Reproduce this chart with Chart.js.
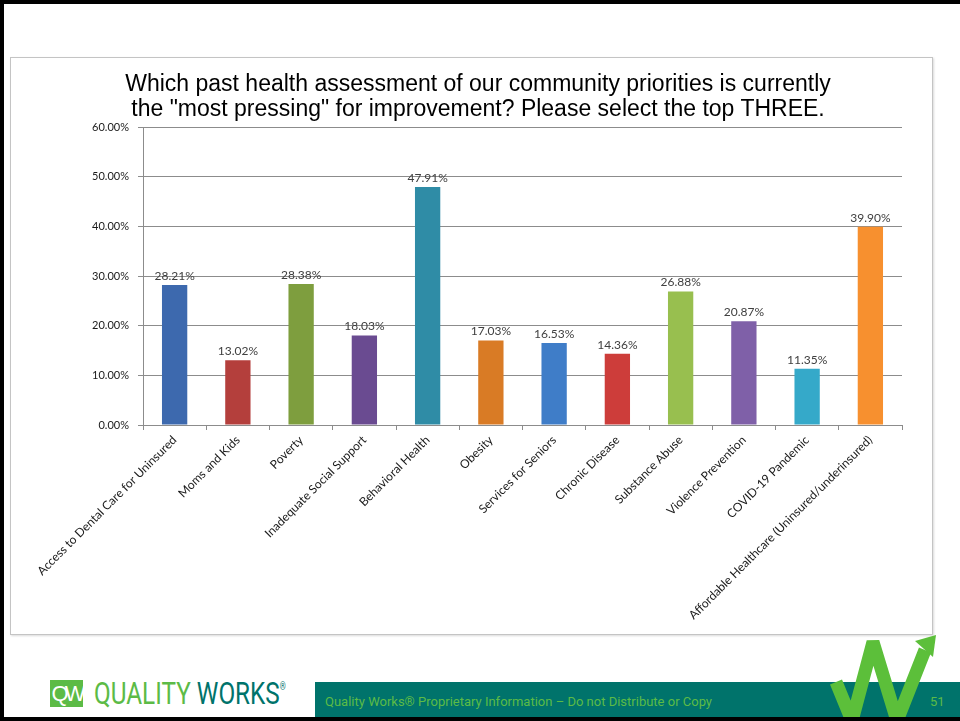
<!DOCTYPE html>
<html>
<head>
<meta charset="utf-8">
<script src="https://cdn.jsdelivr.net/npm/chart.js@4.4.1/dist/chart.umd.min.js"></script>
<style>
  html, body { margin: 0; padding: 0; background: #fff; }
  body { width: 960px; height: 721px; position: relative; overflow: hidden; font-family: 'Liberation Sans', Arial, sans-serif; }
  .edge-top { position: absolute; left: 0; top: 0; width: 960px; height: 4px; background: #000; }
  .edge-left { position: absolute; left: 0; top: 0; width: 4px; height: 721px; background: #000; }
  .edge-bottom { position: absolute; left: 0; top: 717px; width: 960px; height: 4px; background: #000; }
  .frame { position: absolute; left: 10px; top: 57px; width: 921px; height: 576px; border: 1px solid #c4c4c4; box-shadow: 1px 1px 2px rgba(0,0,0,0.15); }
  .frame canvas { display: block; }
  .title { position: absolute; left: 0; top: 71px; width: 956px; text-align: center; font: 23px 'Liberation Sans', Arial, sans-serif; line-height: 25px; color: #000; }
  .band { position: absolute; left: 315px; top: 682px; width: 645px; height: 35px; background: #00736b; }
  .band-text { position: absolute; left: 325px; top: 694px; font: 13px 'Roboto', sans-serif; color: #5cbb46; }
  .page-num { position: absolute; left: 930px; top: 694px; font: 13px 'Roboto', sans-serif; color: #5cbb46; }
  .logo-box { position: absolute; left: 50px; top: 680px; width: 33px; height: 27px; background: #5cbb46; color: #fff; font: 22px 'Liberation Sans', sans-serif; line-height: 27px; text-align: center; letter-spacing: -4px; }
  .logo-text { position: absolute; left: 94px; top: 674px; font: 32px 'Roboto', sans-serif; white-space: nowrap; transform: scaleX(0.76); transform-origin: left; }
  .logo-text .q { color: #5cbb46; }
  .logo-text .w { color: #00736b; }
  .logo-text sup { font-size: 10px; vertical-align: 14px; }
  .mark { position: absolute; left: 0; top: 0; }
</style>
</head>
<body>
<div class="edge-top"></div>
<div class="edge-left"></div>
<div class="frame"><canvas id="chart" width="921" height="576"></canvas></div>
<div class="title" id="title"></div>
<div class="band"></div>
<div class="band-text">Quality Works® Proprietary Information – Do not Distribute or Copy</div>
<div class="page-num">51</div>
<div class="logo-box">QW</div>
<div class="logo-text"><span class="q">QUALITY</span> <span class="w">WORKS<sup>®</sup></span></div>
<svg class="mark" width="960" height="721">
  <polyline points="836,682 852,721 873,642 897,721 925,650" fill="none" stroke="#5cbf3a" stroke-width="13" stroke-linejoin="miter" stroke-miterlimit="3"/>
  <polygon points="915,641 936,635 933,657" fill="#5cbf3a"/>
</svg>
<div class="edge-bottom"></div>
<script>
const CATEGORIES = [
  'Access to Dental Care for Uninsured',
  'Moms and Kids',
  'Poverty',
  'Inadequate Social Support',
  'Behavioral Health',
  'Obesity',
  'Services for Seniors',
  'Chronic Disease',
  'Substance Abuse',
  'Violence Prevention',
  'COVID-19 Pandemic',
  'Affordable Healthcare (Uninsured/underinsured)',
]

const PERCENTS = [28.21, 13.02, 28.38, 18.03, 47.91, 17.03, 16.53, 14.36, 26.88, 20.87, 11.35, 39.90]

const BAR_COLORS = [
  '#3d69ae',
  '#b43f3c',
  '#7e9e3e',
  '#6a4b91',
  '#2f8ca6',
  '#d97b25',
  '#3f7dc8',
  '#cd3d3a',
  '#98bf4f',
  '#7f60a8',
  '#35a9c9',
  '#f7902f',
]

const TITLE_LINES = [
  'Which past health assessment of our community priorities is currently',
  'the "most pressing" for improvement? Please select the top THREE.',
]

const GRID_GRAY = '#8c8c8c'
const LABEL_FONT = "Lato, 'Open Sans', sans-serif"

const titleEl = document.getElementById('title')
for (const line of TITLE_LINES) {
  const row = document.createElement('div')
  row.textContent = line
  titleEl.append(row)
}

// value labels above each bar, Excel style
const barValueLabels = {
  id: 'barValueLabels',
  afterDatasetsDraw(chart) {
    const { ctx } = chart
    const meta = chart.getDatasetMeta(0)
    ctx.save()
    ctx.font = `12px ${LABEL_FONT}`
    ctx.fillStyle = '#404040'
    ctx.textAlign = 'center'
    ctx.textBaseline = 'bottom'
    meta.data.forEach((bar, index) => {
      ctx.fillText(`${PERCENTS[index].toFixed(2)}%`, bar.x, bar.y - 3)
    })
    ctx.restore()
  },
}

new Chart(document.getElementById('chart'), {
  type: 'bar',
  data: {
    labels: CATEGORIES,
    datasets: [{
      data: PERCENTS,
      backgroundColor: BAR_COLORS,
      borderWidth: 0,
      categoryPercentage: 1,
      barPercentage: 0.4,
    }],
  },
  options: {
    responsive: false,
    animation: false,
    layout: { padding: { left: 0, right: 30, top: 69, bottom: 0 } },
    plugins: {
      legend: { display: false },
      tooltip: { enabled: false },
    },
    scales: {
      x: {
        grid: {
          offset: true,
          drawOnChartArea: false,
          color: GRID_GRAY,
          tickLength: 5,
        },
        border: { color: GRID_GRAY },
        ticks: {
          autoSkip: false,
          minRotation: 45,
          maxRotation: 45,
          color: '#1a1a1a',
          padding: 3,
          font: { family: LABEL_FONT, size: 12 },
        },
        afterFit(scale) { scale.height = 209 },
      },
      y: {
        min: 0,
        max: 60,
        ticks: {
          stepSize: 10,
          color: '#1a1a1a',
          padding: 9,
          font: { family: LABEL_FONT, size: 11 },
          callback: (value) => `${value.toFixed(2)}%`,
        },
        grid: { color: GRID_GRAY, tickLength: 5 },
        border: { color: GRID_GRAY },
        afterFit(scale) { scale.width = 132 },
      },
    },
  },
  plugins: [barValueLabels],
})
</script>
</body>
</html>
